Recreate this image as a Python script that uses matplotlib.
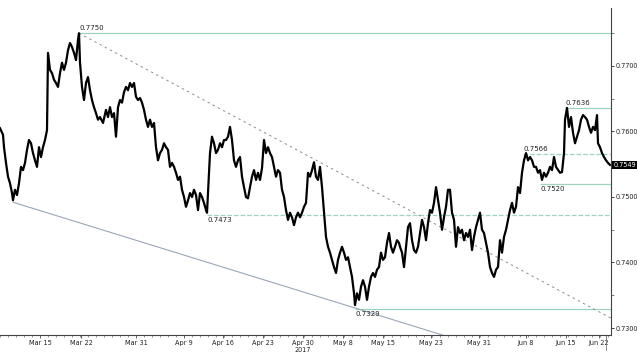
import matplotlib.pyplot as plt

# Time axis in trading hours from the first bar (8 px per day in the source chart)
hours = [0, 9, 12, 18, 24, 30, 36, 39, 45, 51, 57, 63, 69, 75, 81, 87, 93, 99, 105, 111,
         117, 123, 129, 135, 141, 144, 150, 156, 162, 168, 174, 180, 186, 192, 198, 204,
         210, 216, 222, 228, 234, 237, 240, 246, 252, 258, 264, 270, 276, 282, 288, 294,
         300, 309, 318, 324, 330, 336, 342, 348, 354, 360, 366, 372, 378, 384, 390, 396,
         402, 408, 414, 420, 426, 432, 438, 444, 450, 456, 462, 468, 474, 480, 486, 492,
         498, 504, 510, 516, 522, 528, 534, 540, 546, 552, 558, 564, 570, 576, 582, 588,
         594, 600, 606, 612, 618, 621, 627, 630, 636, 642, 648, 654, 660, 666, 672, 678,
         684, 690, 696, 702, 708, 714, 720, 726, 732, 738, 744, 750, 756, 762, 768, 774,
         780, 786, 792, 798, 804, 810, 816, 822, 828, 834, 840, 846, 852, 858, 864, 870,
         876, 882, 888, 894, 900, 906, 912, 918, 924, 930, 936, 942, 948, 954, 960, 966,
         972, 978, 984, 990, 996, 1002, 1008, 1014, 1020, 1026, 1032, 1038, 1044, 1050,
         1056, 1062, 1065, 1071, 1077, 1083, 1089, 1095, 1101, 1107, 1113, 1119, 1125,
         1131, 1137, 1143, 1149, 1155, 1161, 1167, 1173, 1179, 1185, 1191, 1197, 1200,
         1206, 1212, 1218, 1224, 1230, 1236, 1242, 1248, 1254, 1260, 1266, 1272, 1278,
         1284, 1290, 1296, 1302, 1308, 1314, 1320, 1326, 1332, 1338, 1344, 1350, 1356,
         1362, 1368, 1374, 1380, 1386, 1392, 1398, 1404, 1410, 1416, 1422, 1428, 1434,
         1440, 1446, 1452, 1458, 1464, 1470, 1476, 1482, 1488, 1494, 1500, 1506, 1512,
         1518, 1524, 1530, 1536, 1542, 1548, 1554, 1560, 1566, 1572, 1578, 1584, 1590,
         1596, 1602, 1608, 1614, 1620, 1626, 1632, 1638, 1644, 1650, 1656, 1662, 1668,
         1680, 1686, 1692, 1695, 1701, 1707, 1713, 1719, 1725, 1731, 1737, 1743, 1749,
         1755, 1761, 1767, 1773, 1779, 1785, 1791, 1794, 1800, 1806, 1812, 1818, 1824, 1830]

audusd = [0.7605, 0.7595, 0.7576, 0.7552, 0.7531, 0.7521, 0.7506, 0.7495, 0.7511, 0.7503,
          0.7521, 0.7546, 0.7541, 0.7552, 0.7572, 0.7587, 0.7582, 0.7567, 0.7556, 0.7546,
          0.7576, 0.7561, 0.7576, 0.7587, 0.7602, 0.7720, 0.7694, 0.7689, 0.7679, 0.7674,
          0.7668, 0.7689, 0.7705, 0.7694, 0.7705, 0.7724, 0.7735, 0.7729, 0.7720, 0.7709,
          0.7740, 0.7750, 0.7705, 0.7668, 0.7648, 0.7674, 0.7683, 0.7663, 0.7648, 0.7637,
          0.7628, 0.7618, 0.7622, 0.7613, 0.7633, 0.7622, 0.7637, 0.7622, 0.7628, 0.7592,
          0.7637, 0.7648, 0.7644, 0.7660, 0.7668, 0.7663, 0.7674, 0.7668, 0.7674, 0.7653,
          0.7648, 0.7651, 0.7644, 0.7633, 0.7618, 0.7607, 0.7618, 0.7607, 0.7613, 0.7576,
          0.7556, 0.7567, 0.7572, 0.7582, 0.7576, 0.7572, 0.7546, 0.7552, 0.7546, 0.7537,
          0.7526, 0.7531, 0.7511, 0.7500, 0.7485, 0.7495, 0.7506, 0.7500, 0.7511, 0.7503,
          0.7480, 0.7506, 0.7500, 0.7491, 0.7480, 0.7476, 0.7537, 0.7567, 0.7592, 0.7582,
          0.7567, 0.7572, 0.7582, 0.7576, 0.7587, 0.7587, 0.7592, 0.7607, 0.7587, 0.7556,
          0.7546, 0.7556, 0.7561, 0.7531, 0.7515, 0.7500, 0.7498, 0.7515, 0.7531, 0.7541,
          0.7526, 0.7537, 0.7526, 0.7544, 0.7587, 0.7567, 0.7576, 0.7567, 0.7561, 0.7546,
          0.7531, 0.7541, 0.7537, 0.7511, 0.7500, 0.7480, 0.7465, 0.7476, 0.7469, 0.7457,
          0.7469, 0.7476, 0.7469, 0.7476, 0.7485, 0.7491, 0.7537, 0.7531, 0.7541, 0.7553,
          0.7531, 0.7526, 0.7546, 0.7515, 0.7476, 0.7439, 0.7424, 0.7415, 0.7404, 0.7393,
          0.7384, 0.7404, 0.7415, 0.7424, 0.7415, 0.7404, 0.7408, 0.7393, 0.7378, 0.7353,
          0.7335, 0.7353, 0.7343, 0.7363, 0.7373, 0.7363, 0.7343, 0.7363, 0.7378, 0.7384,
          0.7378, 0.7389, 0.7393, 0.7415, 0.7404, 0.7408, 0.7430, 0.7445, 0.7424, 0.7415,
          0.7424, 0.7434, 0.7430, 0.7424, 0.7415, 0.7393, 0.7424, 0.7454, 0.7460, 0.7434,
          0.7419, 0.7415, 0.7424, 0.7445, 0.7465, 0.7454, 0.7434, 0.7460, 0.7480, 0.7476,
          0.7491, 0.7515, 0.7495, 0.7476, 0.7450, 0.7469, 0.7485, 0.7511, 0.7511, 0.7476,
          0.7465, 0.7424, 0.7454, 0.7445, 0.7450, 0.7434, 0.7445, 0.7439, 0.7450, 0.7419,
          0.7439, 0.7454, 0.7465, 0.7476, 0.7450, 0.7445, 0.7430, 0.7415, 0.7393, 0.7384,
          0.7378, 0.7389, 0.7393, 0.7434, 0.7415, 0.7439, 0.7450, 0.7465, 0.7480, 0.7491,
          0.7476, 0.7485, 0.7515, 0.7506, 0.7537, 0.7556, 0.7567, 0.7556, 0.7561, 0.7556,
          0.7546, 0.7546, 0.7537, 0.7541, 0.7526, 0.7537, 0.7531, 0.7537, 0.7546, 0.7541,
          0.7561, 0.7546, 0.7537, 0.7538, 0.7567, 0.7618, 0.7636, 0.7607, 0.7622, 0.7598,
          0.7582, 0.7592, 0.7602, 0.7618, 0.7625, 0.7622, 0.7618, 0.7607, 0.7598, 0.7607,
          0.7602, 0.7625, 0.7582, 0.7576, 0.7567, 0.7561, 0.7556, 0.7552, 0.7549]

# Marked levels: (value, first hour, line style)
levels = [(0.7750, 237, '-'), (0.7636, 1695, '-'), (0.7566, 1569, '--'),
          (0.7520, 1620, '-'), (0.7473, 621, '--'), (0.7329, 1065, '-')]
level_labels = ['0.7750', '0.7636', '0.7566', '0.7520', '0.7473', '0.7329']
label_above = [True, True, True, False, False, False]

# Trend lines: (start hour, start value, end hour, end value)
resistance = (237, 0.7750, 1833, 0.7315)
support = (39, 0.7492, 1329, 0.7289)

tick_hours = [120, 243, 408, 552, 669, 789, 909, 1029, 1149, 1293, 1437, 1578, 1698, 1797]
tick_labels = ['Mar 15', 'Mar 22', 'Mar 31', 'Apr 9', 'Apr 16', 'Apr 23', 'Apr 30\n2017',
               'May 8', 'May 15', 'May 23', 'May 31', 'Jun 8', 'Jun 15', 'Jun 22']
last_price = 0.7549

fig = plt.figure(figsize=(6.37, 3.55), dpi=100)
ax = fig.add_axes([0.0, 0.0563, 0.9592, 0.9212])

fs = 4.7
green = '#9dd5bb'
for (val, start, ls), lab, above in zip(levels, level_labels, label_above):
    ax.hlines(val, start, 1833, colors=green, linestyles=ls, linewidth=0.9, zorder=1)
    ax.annotate(lab, (start, val), xytext=(0, 1.5 if above else -1.5),
                textcoords='offset points', va='bottom' if above else 'top',
                ha='left', fontsize=fs + 0.3, color='#222222')

ax.plot([resistance[0], resistance[2]], [resistance[1], resistance[3]],
        color='#8c8c8c', linestyle=(0, (2.5, 3.5)), linewidth=0.7, zorder=1)
ax.plot([support[0], support[2]], [support[1], support[3]],
        color='#9aa6b6', linewidth=0.8, zorder=1)

ax.plot(hours, audusd, color='black', linewidth=1.6, zorder=3)

ax.set_xlim(0, 1833)
ax.set_ylim(0.72893, 0.77885)

for s in ['left', 'top']:
    ax.spines[s].set_visible(False)
for s in ['right', 'bottom']:
    ax.spines[s].set_color('#444444')
    ax.spines[s].set_linewidth(0.8)

ax.yaxis.tick_right()
ax.set_yticks([0.73, 0.74, 0.75, 0.76, 0.77])
ax.set_yticklabels(['0.7300', '0.7400', '0.7500', '0.7600', '0.7700'])
ax.set_yticks([0.735, 0.745, 0.755, 0.765, 0.775], minor=True)
ax.tick_params(axis='y', which='major', labelsize=fs, length=2.5, width=0.6,
               pad=0.5, colors='#222222')
ax.tick_params(axis='y', which='minor', length=1.8, width=0.5, colors='#444444')

ax.set_xticks(tick_hours)
ax.set_xticklabels(tick_labels)
ax.set_xticks(range(0, 1833, 24), minor=True)
ax.tick_params(axis='x', which='major', labelsize=fs, length=2.5, width=0.5,
               pad=1, colors='#222222')
ax.tick_params(axis='x', which='minor', length=1.5, width=0.4, colors='#444444')

ax.axvline(hours[-1] - 12, ymin=-0.045, ymax=0, color='#777777', linewidth=0.6,
           clip_on=False)

ax.text(1.004, last_price, '%.4f' % last_price, transform=ax.get_yaxis_transform(),
        fontsize=fs, color='white', va='center', ha='left',
        bbox=dict(boxstyle='square,pad=0.15', facecolor='black', edgecolor='none'))

fig.savefig('out.png', dpi=100)
